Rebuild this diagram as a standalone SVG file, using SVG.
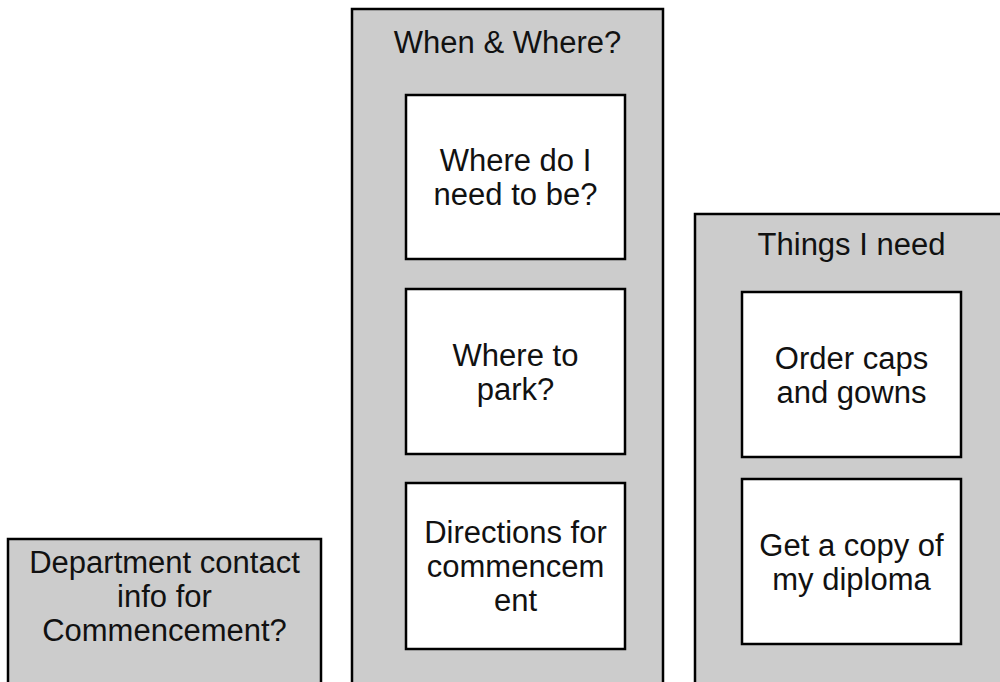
<svg xmlns="http://www.w3.org/2000/svg" width="1000" height="682" viewBox="0 0 1000 682">
<style>
.grp{fill:#cccccc;stroke:#000;stroke-width:2.5}
.box{fill:#ffffff;stroke:#000;stroke-width:2.5}
text{font-family:"Liberation Sans",Arial,sans-serif;font-size:31px;fill:#111;text-anchor:middle}
</style>
<rect width="1000" height="682" fill="#ffffff"/>
<g id="dept">
<rect class="grp" x="8" y="539" width="313" height="160"/>
<text x="164.5" y="573">Department contact</text>
<text x="164.5" y="607">info for</text>
<text x="164.5" y="641">Commencement?</text>
</g>
<g id="when-where">
<rect class="grp" x="352" y="9" width="311" height="690"/>
<text x="507.5" y="53">When &amp; Where?</text>
</g>
<g id="where-be">
<rect class="box" x="406" y="95" width="219" height="164"/>
<text x="515.5" y="171">Where do I</text>
<text x="515.5" y="205">need to be?</text>
</g>
<g id="where-park">
<rect class="box" x="406" y="289" width="219" height="165"/>
<text x="515.5" y="366">Where to</text>
<text x="515.5" y="400">park?</text>
</g>
<g id="directions">
<rect class="box" x="406" y="483" width="219" height="166"/>
<text x="515.5" y="543">Directions for</text>
<text x="515.5" y="577">commencem</text>
<text x="515.5" y="611">ent</text>
</g>
<g id="things">
<rect class="grp" x="695" y="214" width="313" height="490"/>
<text x="851.5" y="255">Things I need</text>
</g>
<g id="caps">
<rect class="box" x="742" y="292" width="219" height="165"/>
<text x="851.5" y="369">Order caps</text>
<text x="851.5" y="403">and gowns</text>
</g>
<g id="diploma">
<rect class="box" x="742" y="479" width="219" height="165"/>
<text x="851.5" y="556">Get a copy of</text>
<text x="851.5" y="590">my diploma</text>
</g>
<g id="connectors"></g>
</svg>
